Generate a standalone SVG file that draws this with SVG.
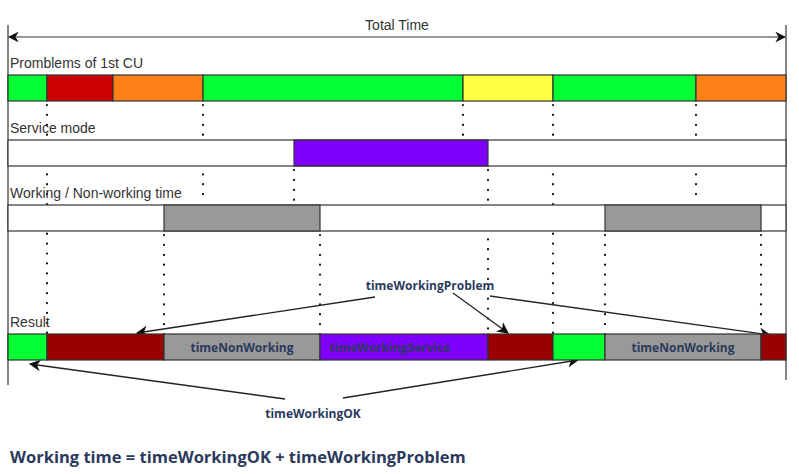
<svg xmlns="http://www.w3.org/2000/svg" width="799" height="474" viewBox="0 0 799 474">
<style>
.lbl{font-family:"Liberation Sans",Arial,sans-serif;font-size:14px;fill:#333}
.seg{stroke:#333;stroke-width:1.2}
.dot{stroke:#111;stroke-width:2.2;stroke-dasharray:0.1 9.8;stroke-linecap:round;fill:none}
.ann{font-family:"Open Sans","Liberation Sans",sans-serif;font-size:12px;font-weight:bold;fill:#2b3a5c}
.arr{stroke:#222;stroke-width:1.3;fill:none;marker-end:url(#ah)}
</style>
<defs>
<marker id="ah" viewBox="0 0 10 10" refX="9" refY="5" markerWidth="9" markerHeight="9" orient="auto"><path d="M0,0 L10,5 L0,10 L3,5 z" fill="#111"/></marker>
<marker id="ahs" viewBox="0 0 10 10" refX="1" refY="5" markerWidth="9" markerHeight="9" orient="auto"><path d="M10,0 L0,5 L10,10 L7,5 z" fill="#111"/></marker>
</defs>
<rect width="799" height="474" fill="#fff"/>
<g id="axis">
<line x1="8" y1="25" x2="8" y2="385" stroke="#333" stroke-width="1.2"/>
<line x1="786" y1="25" x2="786" y2="380" stroke="#333" stroke-width="1.2"/>
<line x1="9" y1="37" x2="785" y2="37" stroke="#333" stroke-width="1.2" marker-start="url(#ahs)" marker-end="url(#ah)"/>
<text class="lbl" x="397" y="30" text-anchor="middle">Total Time</text>
</g>
<g id="connectors">
<line class="dot" x1="47" y1="105" x2="47" y2="334"/>
<line class="dot" x1="203" y1="105" x2="203" y2="200"/>
<line class="dot" x1="463" y1="105" x2="463" y2="136"/>
<line class="dot" x1="553" y1="105" x2="553" y2="334"/>
<line class="dot" x1="696" y1="105" x2="696" y2="198"/>
<line class="dot" x1="294" y1="170" x2="294" y2="200"/>
<line class="dot" x1="488" y1="170" x2="488" y2="334"/>
<line class="dot" x1="164" y1="235" x2="164" y2="334"/>
<line class="dot" x1="320" y1="235" x2="320" y2="334"/>
<line class="dot" x1="605" y1="235" x2="605" y2="334"/>
<line class="dot" x1="761" y1="235" x2="761" y2="334"/>
<line class="arr" x1="375" y1="297" x2="137" y2="333"/>
<line class="arr" x1="453" y1="293" x2="508" y2="333"/>
<line class="arr" x1="490" y1="296" x2="770" y2="335"/>
<line class="arr" x1="285" y1="399" x2="30" y2="364"/>
<line class="arr" x1="343" y1="398" x2="578" y2="360"/>
</g>
<g id="row-problems">
<text class="lbl" x="10" y="68">Promblems of 1st CU</text>
<rect class="seg" x="8" y="75" width="39" height="26" fill="#00ff33"/>
<rect class="seg" x="47" y="75" width="66" height="26" fill="#cc0000"/>
<rect class="seg" x="113" y="75" width="90" height="26" fill="#ff8019"/>
<rect class="seg" x="203" y="75" width="260" height="26" fill="#00ff33"/>
<rect class="seg" x="463" y="75" width="90" height="26" fill="#ffff44"/>
<rect class="seg" x="553" y="75" width="143" height="26" fill="#00ff33"/>
<rect class="seg" x="696" y="75" width="90" height="26" fill="#ff8019"/>
</g>
<g id="row-service">
<text class="lbl" x="10" y="133">Service mode</text>
<rect class="seg" x="8" y="140" width="778" height="26" fill="#fff"/>
<rect class="seg" x="294" y="140" width="194" height="26" fill="#7f00ff"/>
</g>
<g id="row-working">
<text class="lbl" x="10" y="198">Working / Non-working time</text>
<rect class="seg" x="8" y="205" width="778" height="26" fill="#fff"/>
<rect class="seg" x="164" y="205" width="156" height="26" fill="#999"/>
<rect class="seg" x="605" y="205" width="156" height="26" fill="#999"/>
</g>
<g id="row-result">
<text class="lbl" x="10" y="327">Result</text>
<rect class="seg" x="8" y="334" width="39" height="26" fill="#00ff33"/>
<rect class="seg" x="47" y="334" width="117" height="26" fill="#990000"/>
<rect class="seg" x="164" y="334" width="156" height="26" fill="#999"/>
<rect class="seg" x="320" y="334" width="168" height="26" fill="#7f00ff"/>
<rect class="seg" x="488" y="334" width="65" height="26" fill="#990000"/>
<rect class="seg" x="553" y="334" width="52" height="26" fill="#00ff33"/>
<rect class="seg" x="605" y="334" width="156" height="26" fill="#999"/>
<rect class="seg" x="761" y="334" width="25" height="26" fill="#990000"/>
<text class="ann" x="242" y="352" text-anchor="middle">timeNonWorking</text>
<text class="ann" x="390" y="352" text-anchor="middle">timeWorkingService</text>
<text class="ann" x="683" y="352" text-anchor="middle">timeNonWorking</text>
</g>
<g id="labels">
<text class="ann" x="430" y="290" text-anchor="middle">timeWorkingProblem</text>
<text class="ann" x="313" y="418" text-anchor="middle">timeWorkingOK</text>
<text x="10" y="463" font-family="'Open Sans','Liberation Sans',sans-serif" font-size="16.5" font-weight="bold" fill="#2b3a5c">Working time = timeWorkingOK + timeWorkingProblem</text>
</g>
</svg>
